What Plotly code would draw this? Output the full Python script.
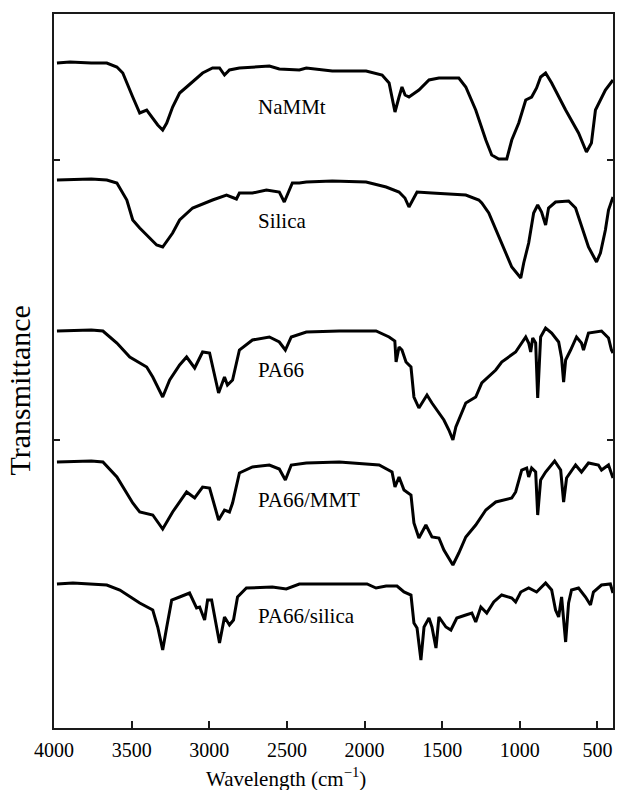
import plotly.graph_objects as go

# ---------------- data ----------------
samples = ["NaMMt", "Silica", "PA66", "PA66/MMT", "PA66/silica"]
offsets = [665, 548, 397, 266, 144]          # vertical stacking offsets (a.u.)

nammt_wn = [3981, 3897, 3760, 3660, 3595, 3557, 3493, 3448, 3403, 3364, 3332, 3300, 3274, 3236,
            3191, 3146, 3107, 3043, 2979, 2934, 2902, 2870, 2806, 2700, 2613, 2549, 2420, 2375,
            2208, 1990, 1887, 1842, 1804, 1778, 1759, 1739, 1714, 1650, 1585, 1521, 1393, 1348,
            1284, 1219, 1181, 1136, 1084, 1052, 1007, 962, 924, 892, 866, 834, 795, 705, 622,
            571, 539, 513, 449, 400]
nammt_t = [0, 1, 0, 0, -4, -10, -34, -50, -47, -55, -62, -67, -60, -44, -30, -24, -19, -10, -5,
           -5, -12, -7, -5, -4, -3, -6, -7, -5, -8, -8, -12, -20, -49, -34, -24, -32, -34, -27,
           -17, -15, -15, -24, -47, -77, -92, -96, -96, -77, -60, -37, -34, -25, -14, -10, -20,
           -47, -70, -89, -80, -47, -27, -17]

silica_wn = [3981, 3760, 3660, 3595, 3531, 3493, 3448, 3403, 3339, 3300, 3236, 3191, 3107, 2979,
             2889, 2825, 2806, 2722, 2632, 2549, 2517, 2465, 2420, 2375, 2208, 1990, 1861, 1778,
             1740, 1714, 1662, 1566, 1348, 1264, 1245, 1200, 1181, 1117, 1052, 994, 975, 943,
             911, 885, 860, 834, 815, 770, 686, 641, 603, 558, 506, 481, 449, 429, 400]
silica_t = [0, 1, 0, -3, -20, -40, -48, -55, -65, -67, -53, -40, -28, -20, -15, -19, -13, -13,
            -10, -12, -22, -3, -3, -2, -1, -2, -7, -12, -18, -27, -12, -13, -15, -20, -23, -33,
            -40, -63, -87, -98, -83, -63, -33, -25, -32, -45, -28, -22, -21, -28, -47, -67, -82,
            -73, -50, -30, -17]

pa66_wn = [3981, 3760, 3685, 3595, 3512, 3403, 3364, 3300, 3255, 3191, 3146, 3094, 3043, 2998,
           2940, 2902, 2883, 2850, 2806, 2722, 2613, 2549, 2510, 2472, 2375, 2163, 1926, 1842,
           1805, 1797, 1778, 1759, 1733, 1701, 1682, 1650, 1630, 1598, 1566, 1521, 1489, 1457,
           1431, 1412, 1348, 1284, 1245, 1155, 1117, 1027, 962, 943, 930, 917, 898, 885, 866,
           834, 795, 750, 731, 718, 705, 673, 635, 603, 590, 558, 474, 429, 410, 400]
pa66_t = [0, 1, 0, -12, -26, -36, -46, -66, -49, -34, -26, -37, -21, -22, -62, -46, -54, -49,
          -19, -9, -6, -11, -19, -6, -1, 0, 0, -6, -10, -31, -16, -19, -31, -36, -66, -77, -72,
          -64, -72, -82, -89, -99, -109, -96, -72, -66, -52, -39, -31, -21, -6, -12, -21, -7,
          -12, -67, -6, 3, -2, -11, -27, -51, -29, -19, -6, -12, -19, -2, 0, -7, -19, -22]

pa66mmt_wn = [3981, 3760, 3685, 3595, 3493, 3448, 3364, 3300, 3236, 3146, 3094, 3043, 2998, 2940,
              2902, 2870, 2850, 2806, 2722, 2613, 2549, 2510, 2472, 2375, 2163, 1906, 1823, 1804,
              1778, 1746, 1701, 1682, 1650, 1605, 1566, 1521, 1489, 1431, 1393, 1348, 1284, 1219,
              1155, 1052, 1027, 988, 956, 943, 924, 898, 885, 866, 834, 776, 737, 718, 699, 641,
              603, 558, 494, 474, 429, 400]
pa66mmt_t = [0, 1, 0, -15, -41, -50, -53, -67, -50, -30, -36, -25, -26, -58, -48, -50, -41, -11,
             -5, -3, -7, -18, -3, -1, 0, -3, -10, -25, -15, -28, -33, -61, -76, -63, -75, -76,
             -88, -103, -91, -75, -63, -48, -40, -36, -30, -8, -6, -15, -6, -10, -53, -18, -10,
             1, -8, -40, -16, -3, -10, -1, -3, -8, -3, -16]

pa66si_wn = [3981, 3878, 3660, 3576, 3448, 3364, 3332, 3300, 3274, 3242, 3191, 3127, 3082, 3062,
             3030, 3011, 2985, 2934, 2902, 2870, 2844, 2818, 2761, 2594, 2504, 2420, 2163, 1984,
             1926, 1861, 1791, 1746, 1701, 1682, 1662, 1637, 1617, 1585, 1566, 1540, 1521, 1476,
             1444, 1406, 1348, 1309, 1284, 1251, 1213, 1168, 1117, 1052, 1027, 994, 943, 892,
             834, 795, 770, 750, 731, 705, 686, 667, 622, 577, 545, 526, 474, 417, 400]
pa66si_t = [0, 1, -1, -6, -19, -26, -43, -66, -43, -16, -13, -9, -24, -23, -36, -16, -16, -59,
            -33, -41, -36, -13, -4, -3, -5, 0, 0, 0, -4, -2, -2, -8, -11, -39, -44, -76, -43,
            -34, -43, -64, -33, -43, -46, -34, -31, -29, -38, -23, -29, -18, -11, -14, -18, -8,
            -4, -8, 1, -6, -26, -33, -13, -58, -19, -6, -4, -13, -21, -8, -1, 0, -9]

x_tick_vals = [4000, 3500, 3000, 2500, 2000, 1500, 1000, 500]
y_tick_vals = [288, 568]

spectra = [(nammt_wn, nammt_t), (silica_wn, silica_t), (pa66_wn, pa66_t),
           (pa66mmt_wn, pa66mmt_t), (pa66si_wn, pa66si_t)]

# ---------------- figure ----------------
SERIF = "Liberation Serif"
AX = "#1a1a1a"

fig = go.Figure()
for name, (wn, t), off in zip(samples, spectra, offsets):
    fig.add_trace(go.Scatter(
        x=wn, y=[v + off for v in t], mode="lines", name=name,
        line=dict(color="black", width=3), showlegend=False, hoverinfo="skip"))

label_y = [621, 507, 358, 228, 112]
for name, ly in zip(samples, label_y):
    fig.add_annotation(x=2700, y=ly, xref="x", yref="y", text=name, showarrow=False,
                       xanchor="left", yanchor="middle",
                       font=dict(family=SERIF, size=21, color="black"))

fig.add_annotation(x=0.415, y=-0.07, xref="paper", yref="paper",
                   text="Wavelength (cm<sup>−1</sup>)", showarrow=False,
                   xanchor="center", yanchor="middle",
                   font=dict(family=SERIF, size=21, color="black"))
fig.add_annotation(x=-0.062, y=0.473, xref="paper", yref="paper",
                   text="Transmittance", showarrow=False, textangle=-90,
                   xanchor="center", yanchor="middle",
                   font=dict(family=SERIF, size=30, color="black"))

fig.update_xaxes(range=[4000, 400], tickvals=x_tick_vals,
                 ticktext=[str(v) for v in x_tick_vals],
                 showline=True, linecolor=AX, linewidth=2, mirror=True,
                 ticks="inside", ticklen=7, tickwidth=1.5, tickcolor=AX,
                 showgrid=False, zeroline=False, ticklabelstandoff=3,
                 tickfont=dict(family=SERIF, size=20, color="black"))
fig.update_yaxes(range=[0, 714], tickvals=y_tick_vals, showticklabels=False,
                 showline=True, linecolor=AX, linewidth=2, mirror="ticks",
                 ticks="inside", ticklen=6, tickwidth=1.5, tickcolor=AX,
                 showgrid=False, zeroline=False)

fig.update_layout(width=617, height=790, autosize=False,
                  margin=dict(l=54, r=2, t=14, b=62),
                  paper_bgcolor="white", plot_bgcolor="white",
                  font=dict(family=SERIF, color="black"))

fig.write_html("out.html")
